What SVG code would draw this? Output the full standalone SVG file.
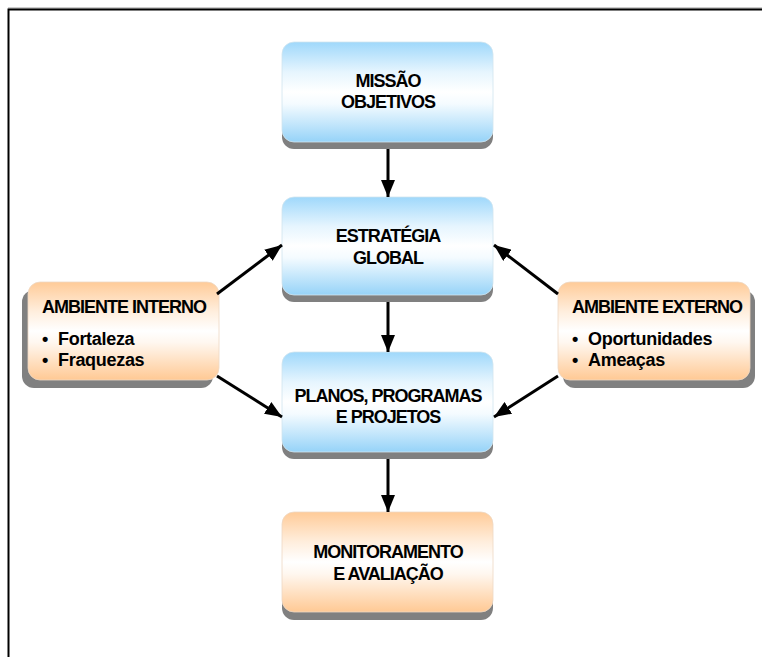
<svg xmlns="http://www.w3.org/2000/svg" width="762" height="657" viewBox="0 0 762 657">
<defs>
<linearGradient id="gBlue" x1="0" y1="0" x2="0" y2="1">
<stop offset="0" stop-color="#9fd8fb"/>
<stop offset="0.3" stop-color="#e6f5fe"/>
<stop offset="0.5" stop-color="#ffffff"/>
<stop offset="0.62" stop-color="#f4fbff"/>
<stop offset="1" stop-color="#96d3f8"/>
</linearGradient>
<linearGradient id="gOrange" x1="0" y1="0" x2="0" y2="1">
<stop offset="0" stop-color="#ffcb98"/>
<stop offset="0.3" stop-color="#ffeedd"/>
<stop offset="0.5" stop-color="#ffffff"/>
<stop offset="0.62" stop-color="#fff7ef"/>
<stop offset="1" stop-color="#ffc994"/>
</linearGradient>
<marker id="arr" markerUnits="userSpaceOnUse" markerWidth="18" markerHeight="14" refX="17" refY="7" orient="auto">
<path d="M0,0 L17,7 L0,14 Z" fill="#000"/>
</marker>
<style>
.shadow{fill:#808080}
.blue{fill:url(#gBlue);stroke:#d0e4ef;stroke-width:0.8}
.orange{fill:url(#gOrange);stroke:#eed8c4;stroke-width:0.8}
.t{font-family:"Liberation Sans",Arial,sans-serif;font-weight:bold;font-size:18px;fill:#000;letter-spacing:-1px}
.c{text-anchor:middle}
.i{font-family:"Liberation Sans",Arial,sans-serif;font-weight:bold;font-size:18px;fill:#000;letter-spacing:-0.3px}
.conn{stroke:#000;stroke-width:3;fill:none;marker-end:url(#arr)}
</style>
</defs>
<rect width="762" height="657" fill="#fff"/>
<g id="frame">
<line x1="8" y1="8" x2="762" y2="8" stroke="#9a9a9a" stroke-width="1"/>
<path d="M8.5 657 V9.5 H762" stroke="#000" stroke-width="2" fill="none"/>
</g>
<g id="missao">
<rect class="shadow" x="282" y="49" width="211" height="100" rx="12"/>
<rect class="blue" x="282" y="42" width="211" height="100" rx="12"/>
<text class="t c" x="388" y="87">MISSÃO</text>
<text class="t c" x="388" y="108">OBJETIVOS</text>
</g>
<g id="estrategia">
<rect class="shadow" x="282" y="204" width="211" height="98" rx="12"/>
<rect class="blue" x="282" y="197" width="211" height="98" rx="12"/>
<text class="t c" x="388" y="242">ESTRATÉGIA</text>
<text class="t c" x="388" y="264">GLOBAL</text>
</g>
<g id="planos">
<rect class="shadow" x="282" y="359" width="211" height="100" rx="12"/>
<rect class="blue" x="282" y="352" width="211" height="100" rx="12"/>
<text class="t c" x="388" y="402">PLANOS, PROGRAMAS</text>
<text class="t c" x="388" y="423">E PROJETOS</text>
</g>
<g id="monitoramento">
<rect class="shadow" x="282" y="520" width="211" height="100" rx="12"/>
<rect class="orange" x="282" y="512" width="211" height="100" rx="12"/>
<text class="t c" x="388" y="558">MONITORAMENTO</text>
<text class="t c" x="388" y="580">E AVALIAÇÃO</text>
</g>
<g id="ambiente-interno">
<rect class="shadow" x="22" y="290" width="191" height="98" rx="12"/>
<rect class="orange" x="28" y="282" width="191" height="98" rx="12"/>
<text class="t" x="42" y="313">AMBIENTE INTERNO</text>
<text class="i" x="42" y="345">•</text>
<text class="i" x="58" y="345">Fortaleza</text>
<text class="i" x="42" y="366">•</text>
<text class="i" x="58" y="366">Fraquezas</text>
</g>
<g id="ambiente-externo">
<rect class="shadow" x="563" y="290" width="192" height="98" rx="12"/>
<rect class="orange" x="558" y="282" width="192" height="98" rx="12"/>
<text class="t" x="572" y="313">AMBIENTE EXTERNO</text>
<text class="i" x="572" y="345">•</text>
<text class="i" x="588" y="345">Oportunidades</text>
<text class="i" x="572" y="366">•</text>
<text class="i" x="588" y="366">Ameaças</text>
</g>
<g id="connectors">
<line class="conn" x1="388" y1="149" x2="388" y2="197"/>
<line class="conn" x1="388" y1="302" x2="388" y2="352"/>
<line class="conn" x1="388" y1="459" x2="388" y2="512"/>
<line class="conn" x1="217" y1="294" x2="282" y2="245"/>
<line class="conn" x1="217" y1="376" x2="282" y2="417"/>
<line class="conn" x1="558" y1="294" x2="494" y2="245"/>
<line class="conn" x1="558" y1="376" x2="494" y2="417"/>
</g>
</svg>
